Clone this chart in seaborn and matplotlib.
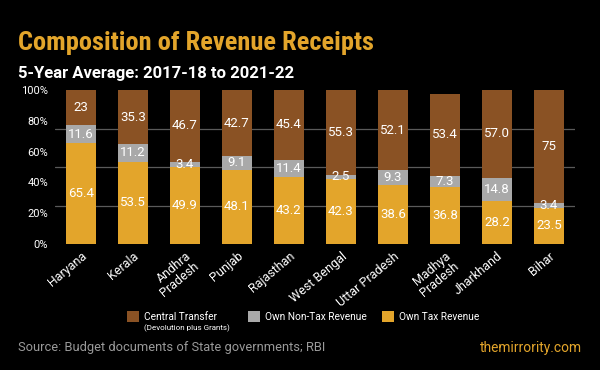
import matplotlib
matplotlib.use("Agg")
import matplotlib.pyplot as plt
import seaborn as sns
import numpy as np
from matplotlib.patches import Rectangle

states = ["Haryana", "Kerala", "Andhra\nPradesh", "Punjab", "Rajasthan", "West Bengal",
          "Uttar Pradesh", "Madhya\nPradesh", "Jharkhand", "Bihar"]
own_tax = [65.4, 53.5, 49.9, 48.1, 43.2, 42.3, 38.6, 36.8, 28.2, 23.5]
own_non_tax = [11.6, 11.2, 3.4, 9.1, 11.4, 2.5, 9.3, 7.3, 14.8, 3.4]
central = [23, 35.3, 46.7, 42.7, 45.4, 55.3, 52.1, 53.4, 57.0, 75]
central_labels = ["23", "35.3", "46.7", "42.7", "45.4", "55.3", "52.1", "53.4", "57.0", "75"]

ORANGE = "#E3A52B"
GREY = "#A9A9A9"
BROWN = "#8A5224"
BG = "#000000"

sns.set_style("dark")
plt.rcParams["font.family"] = ["Roboto", "DejaVu Sans"]

fig = plt.figure(figsize=(6, 3.7), dpi=100, facecolor=BG)
ax = fig.add_axes([55 / 600, 1 - 244 / 370, 520 / 600, 154 / 370])
ax.set_facecolor(BG)

tax = np.array(own_tax)
non_tax = np.array(own_non_tax)
cen = np.array(central)

bar_kw = dict(width=0.58, saturation=1, ax=ax, zorder=3, edgecolor="none", linewidth=0)
sns.barplot(x=states, y=own_tax, color=ORANGE, **bar_kw)
sns.barplot(x=states, y=own_non_tax, bottom=tax, color=GREY, **bar_kw)
sns.barplot(x=states, y=central, bottom=tax + non_tax, color=BROWN, **bar_kw)

ax.set_ylim(0, 100)
ax.set_xlim(-0.5, len(states) - 0.5)

# value labels in the middle of each segment
for i in range(len(states)):
    top = min(tax[i] + non_tax[i] + cen[i], 100)
    ax.text(i, tax[i] / 2, f"{own_tax[i]:.1f}", ha="center", va="center",
            color="white", fontsize=9.5, zorder=4)
    ax.text(i, tax[i] + non_tax[i] / 2, f"{own_non_tax[i]:.1f}", ha="center",
            va="center", color="white", fontsize=9.5, zorder=4)
    ax.text(i, (tax[i] + non_tax[i] + top) / 2, central_labels[i], ha="center",
            va="center", color="white", fontsize=9.5, zorder=4)

ax.set_yticks(range(0, 101, 20))
ax.set_yticklabels([f"{v}%" for v in range(0, 101, 20)], color="white", fontsize=8)
ax.set_yticks([0, 25, 50, 75, 100], minor=True)
ax.grid(False)
ax.grid(which="minor", axis="y", color="#5a5a5a", linewidth=0.9, zorder=0)
ax.tick_params(axis="both", which="both", length=0)
ax.tick_params(axis="y", pad=5)
ax.set_xticks(range(len(states)))
ax.set_xticklabels(states, rotation=40, ha="right", rotation_mode="anchor",
                   color="white", fontsize=9, linespacing=1.0)
ax.tick_params(axis="x", pad=4)
for s in ax.spines.values():
    s.set_visible(False)

# titles
fig.text(18 / 600, 1 - 50 / 370, "Composition of Revenue Receipts", color=ORANGE,
         fontsize=19, fontweight="bold",
         family=["Roboto Condensed", "Roboto", "DejaVu Sans"], va="baseline")
fig.text(18 / 600, 1 - 78 / 370, "5-Year Average: 2017-18 to 2021-22", color="white",
         fontsize=12, fontweight="bold", va="baseline")

# legend, placed by hand
legend_items = [("Central Transfer", BROWN, 127), ("Own Non-Tax Revenue", GREY, 248),
                ("Own Tax Revenue", ORANGE, 382)]
for label, col, x0 in legend_items:
    fig.patches.append(Rectangle((x0 / 600, 1 - 322 / 370), 12 / 600, 11 / 370,
                                 transform=fig.transFigure, facecolor=col,
                                 edgecolor="none"))
    fig.text((x0 + 17) / 600, 1 - 316.5 / 370, label, color="white", fontsize=7.3,
             va="center")
fig.text(144 / 600, 1 - 328 / 370, "(Devolution plus Grants)", color="white",
         fontsize=5.8, va="center")

fig.text(18 / 600, 1 - 348 / 370, "Source: Budget documents of State governments; RBI",
         color="#9a9a9a", fontsize=9.3, va="center")
fig.text(582 / 600, 1 - 348 / 370, "themirrority.com", color=ORANGE, fontsize=9.9,
         va="center", ha="right")

fig.savefig("out.png", dpi=100, facecolor=BG)
